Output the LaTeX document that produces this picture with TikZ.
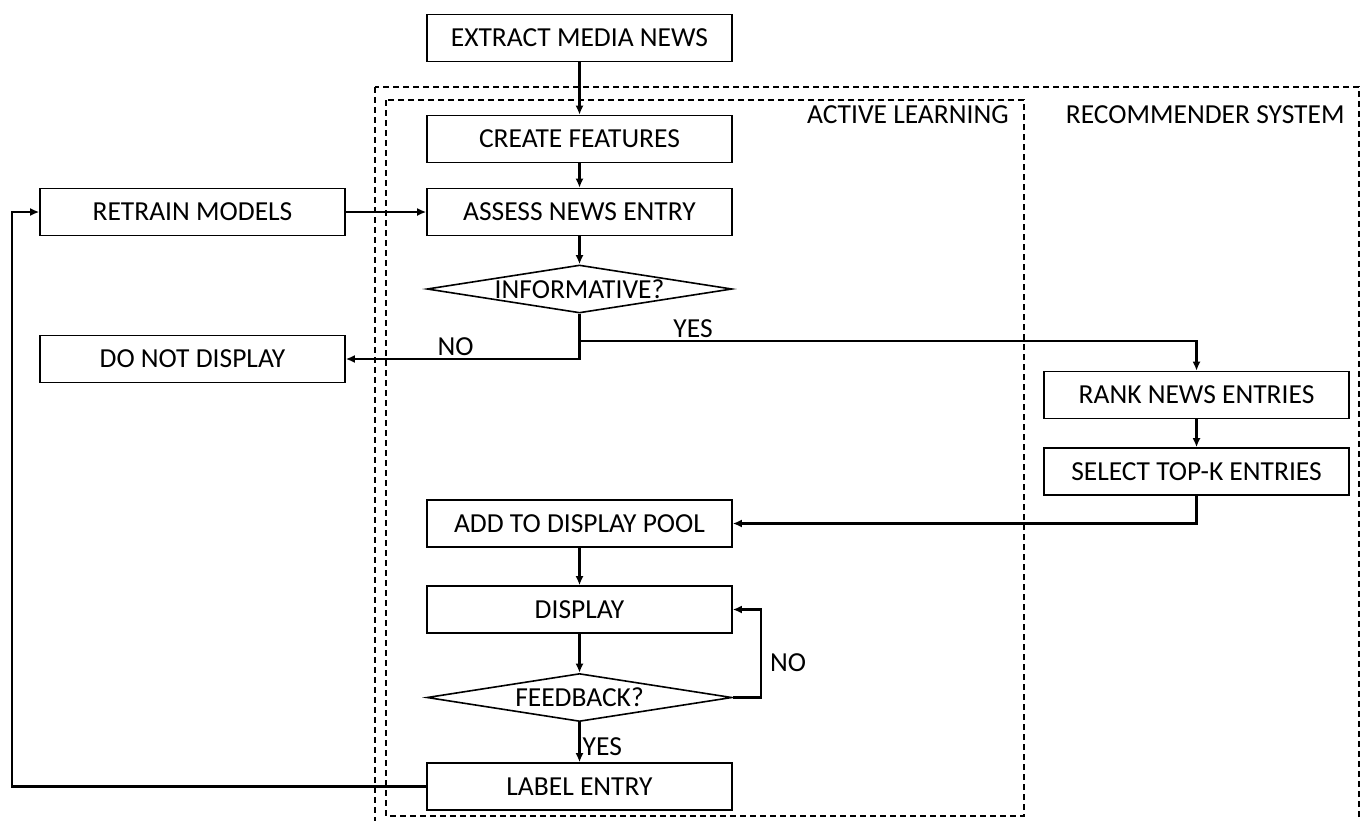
\documentclass[tikz,border=0pt]{standalone}
\usepackage{fontspec}
\setmainfont{Carlito}
\usetikzlibrary{shapes.geometric}
\usetikzlibrary{arrows.meta}

\tikzset{
    box/.style={draw, line width=0.8pt, minimum width=152.5pt, minimum height=23.5pt, inner sep=0pt},
    decision/.style={diamond, draw, line width=0.8pt, aspect=6.35, minimum width=152.5pt, minimum height=24pt, inner sep=0pt},
    flow/.style={->, line width=1.2pt},
    group/.style={dash pattern=on 3pt off 2pt, line width=0.7pt},
    tag/.style={inner sep=1pt}
}

\begin{document}
\begin{tikzpicture}[>={Latex[length=4.5pt,width=4pt]}, x=0.5pt, y=-0.5pt, font=\fontsize{13.75}{16}\selectfont]
        \useasboundingbox (0,0) rectangle (1363,820);

        % Dashed groups
        \draw[group] (375,87) rectangle (1359,840);
        \draw[group] (386,100) rectangle (1024,816);
        \node[tag, anchor=east] (altitle) at (1011,115) {ACTIVE LEARNING};
        \node[tag, anchor=east] (rstitle) at (1347,115) {RECOMMENDER SYSTEM};

        % Main column
        \node[box] (extract) at (579.5,38) {EXTRACT MEDIA NEWS};
        \node[box] (features) at (579.5,139) {CREATE FEATURES};
        \node[box] (assess) at (579.5,212) {ASSESS NEWS ENTRY};
        \node[decision] (informative) at (579.5,289) {INFORMATIVE?};
        \node[box] (pool) at (579.5,523.5) {ADD TO DISPLAY POOL};
        \node[box] (display) at (579.5,609.5) {DISPLAY};
        \node[decision] (feedback) at (579.5,697.5) {FEEDBACK?};
        \node[box] (label) at (579.5,786.5) {LABEL ENTRY};

        % Left column
        \node[box] (retrain) at (192.5,212) {RETRAIN MODELS};
        \node[box] (nodisplay) at (192.5,359) {DO NOT DISPLAY};

        % Recommender column
        \node[box] (rank) at (1196.5,395) {RANK NEWS ENTRIES};
        \node[box] (topk) at (1196.5,471.5) {SELECT TOP-K ENTRIES};

        % Straight arrows
        \draw[flow] (extract) -- (features);
        \draw[flow] (features) -- (assess);
        \draw[flow] (assess) -- (informative);
        \draw[flow] (retrain) -- (assess);
        \draw[flow] (pool) -- (display);
        \draw[flow] (display) -- (feedback);
        \draw[flow] (feedback) -- node[tag, anchor=west, pos=0.6] (yesfb) {YES} (label);

        % Informative? branches
        \coordinate (fork) at (579.5,341);
        \draw[flow] (informative.south) |- node[tag, anchor=south, pos=0.765] (noinf) {NO} (nodisplay.east);
        \draw[flow] (fork) -| node[tag, anchor=south, pos=0.092] (yesinf) {YES} (rank.north);

        % Recommender back into the pool
        \draw[flow] (rank) -- (topk);
        \draw[flow] (topk.south) |- (pool.east);

        % Feedback loop
        \draw[flow] (feedback.east) -- ++(28,0) |- node[tag, anchor=west, pos=0.196, xshift=3pt] (nofb) {NO} (display.east);

        % Labels go back to retraining
        \draw[flow] (label.west) -- ++(-414,0) |- (retrain.west);
\end{tikzpicture}
\end{document}
